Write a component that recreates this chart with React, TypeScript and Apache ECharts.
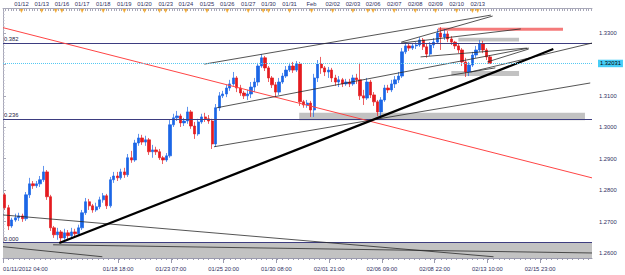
import React, { useEffect, useRef } from 'react';
import * as echarts from 'echarts';

// 4-hour candles (trading hours counted from 01/11/2012 04:00)
const barHours = 4;
const opens = [
  1.2785, 1.2744, 1.2686, 1.2705, 1.2712, 1.2718, 1.2709, 1.2785, 1.2820, 1.2814,
  1.2820, 1.2833, 1.2858, 1.2779, 1.2680, 1.2658, 1.2667, 1.2648, 1.2664, 1.2655,
  1.2667, 1.2661, 1.2680, 1.2728, 1.2763, 1.2750, 1.2737, 1.2747, 1.2769, 1.2782,
  1.2750, 1.2833, 1.2845, 1.2839, 1.2858, 1.2849, 1.2903, 1.2896, 1.2950, 1.2966,
  1.2953, 1.2960, 1.2922, 1.2928, 1.2922, 1.2903, 1.2896, 1.2909, 1.3008, 1.3030,
  1.3036, 1.3014, 1.3020, 1.3049, 1.3004, 1.2979, 1.3017, 1.3033, 1.3027, 1.3020,
  1.2947, 1.3062, 1.3100, 1.3106, 1.3125, 1.3138, 1.3157, 1.3125, 1.3109, 1.3100,
  1.3106, 1.3128, 1.3144, 1.3195, 1.3221, 1.3189, 1.3157, 1.3135, 1.3112, 1.3144,
  1.3163, 1.3182, 1.3195, 1.3182, 1.3201, 1.3081, 1.3071, 1.3077, 1.3055, 1.3157,
  1.3201, 1.3189, 1.3176, 1.3182, 1.3157, 1.3144, 1.3151, 1.3138, 1.3144, 1.3138,
  1.3157, 1.3151, 1.3100, 1.3093, 1.3144, 1.3103, 1.3081, 1.3049, 1.3087, 1.3125,
  1.3119, 1.3138, 1.3151, 1.3163, 1.3240, 1.3259, 1.3252, 1.3259, 1.3262, 1.3278,
  1.3256, 1.3233, 1.3262, 1.3271, 1.3300, 1.3287, 1.3297, 1.3281, 1.3271, 1.3259,
  1.3246, 1.3208, 1.3176, 1.3198, 1.3230, 1.3246, 1.3265, 1.3246, 1.3224,
];
const closes = [
  1.2744, 1.2686, 1.2705, 1.2712, 1.2718, 1.2709, 1.2785, 1.2820, 1.2814, 1.2820,
  1.2833, 1.2858, 1.2779, 1.2680, 1.2658, 1.2667, 1.2648, 1.2664, 1.2655, 1.2667,
  1.2661, 1.2680, 1.2728, 1.2763, 1.2750, 1.2737, 1.2747, 1.2769, 1.2782, 1.2750,
  1.2833, 1.2845, 1.2839, 1.2858, 1.2849, 1.2903, 1.2896, 1.2950, 1.2966, 1.2953,
  1.2960, 1.2922, 1.2928, 1.2922, 1.2903, 1.2896, 1.2909, 1.3008, 1.3030, 1.3036,
  1.3014, 1.3020, 1.3049, 1.3004, 1.2979, 1.3017, 1.3033, 1.3027, 1.3020, 1.2947,
  1.3062, 1.3100, 1.3106, 1.3125, 1.3138, 1.3157, 1.3125, 1.3109, 1.3100, 1.3106,
  1.3128, 1.3144, 1.3195, 1.3221, 1.3189, 1.3157, 1.3135, 1.3112, 1.3144, 1.3163,
  1.3182, 1.3195, 1.3182, 1.3201, 1.3081, 1.3071, 1.3077, 1.3055, 1.3157, 1.3201,
  1.3189, 1.3176, 1.3182, 1.3157, 1.3144, 1.3151, 1.3138, 1.3144, 1.3138, 1.3157,
  1.3151, 1.3100, 1.3093, 1.3144, 1.3103, 1.3081, 1.3049, 1.3087, 1.3125, 1.3119,
  1.3138, 1.3151, 1.3163, 1.3240, 1.3259, 1.3252, 1.3259, 1.3262, 1.3278, 1.3256,
  1.3233, 1.3262, 1.3271, 1.3300, 1.3287, 1.3297, 1.3281, 1.3271, 1.3259, 1.3246,
  1.3208, 1.3176, 1.3198, 1.3230, 1.3246, 1.3265, 1.3246, 1.3224, 1.32031,
];
const lows = [
  1.2737, 1.2673, 1.2680, 1.2699, 1.2702, 1.2699, 1.2702, 1.2775, 1.2804, 1.2807,
  1.2810, 1.2826, 1.2769, 1.2670, 1.2648, 1.2642, 1.2632, 1.2642, 1.2642, 1.2648,
  1.2648, 1.2655, 1.2673, 1.2721, 1.2737, 1.2728, 1.2731, 1.2740, 1.2760, 1.2740,
  1.2744, 1.2823, 1.2829, 1.2833, 1.2839, 1.2842, 1.2887, 1.2890, 1.2941, 1.2944,
  1.2941, 1.2912, 1.2903, 1.2912, 1.2896, 1.2883, 1.2890, 1.2903, 1.3001, 1.3020,
  1.3001, 1.3004, 1.3011, 1.2995, 1.2963, 1.2973, 1.3011, 1.3017, 1.3011, 1.2931,
  1.2938, 1.3052, 1.3093, 1.3096, 1.3116, 1.3132, 1.3112, 1.3100, 1.3090, 1.3087,
  1.3093, 1.3112, 1.3132, 1.3189, 1.3179, 1.3144, 1.3125, 1.3096, 1.3103, 1.3138,
  1.3157, 1.3176, 1.3173, 1.3176, 1.3068, 1.3062, 1.3062, 1.3033, 1.3033, 1.3144,
  1.3170, 1.3163, 1.3157, 1.3144, 1.3132, 1.3128, 1.3128, 1.3132, 1.3128, 1.3132,
  1.3138, 1.3087, 1.3071, 1.3087, 1.3093, 1.3068, 1.3036, 1.3033, 1.3081, 1.3109,
  1.3112, 1.3125, 1.3141, 1.3157, 1.3233, 1.3243, 1.3246, 1.3249, 1.3256, 1.3246,
  1.3221, 1.3227, 1.3252, 1.3265, 1.3246, 1.3278, 1.3271, 1.3262, 1.3249, 1.3236,
  1.3195, 1.3160, 1.3163, 1.3192, 1.3221, 1.3240, 1.3236, 1.3214, 1.3201,
];
const highs = [
  1.2791, 1.2753, 1.2712, 1.2725, 1.2728, 1.2725, 1.2794, 1.2839, 1.2829, 1.2829,
  1.2845, 1.2877, 1.2864, 1.2785, 1.2686, 1.2680, 1.2673, 1.2677, 1.2673, 1.2680,
  1.2677, 1.2690, 1.2737, 1.2775, 1.2772, 1.2756, 1.2760, 1.2779, 1.2791, 1.2788,
  1.2842, 1.2858, 1.2858, 1.2868, 1.2871, 1.2915, 1.2925, 1.2960, 1.2979, 1.2976,
  1.2973, 1.2966, 1.2944, 1.2938, 1.2931, 1.2909, 1.2918, 1.3023, 1.3043, 1.3052,
  1.3043, 1.3030, 1.3065, 1.3055, 1.3017, 1.3027, 1.3043, 1.3046, 1.3039, 1.3027,
  1.3074, 1.3112, 1.3116, 1.3135, 1.3151, 1.3176, 1.3163, 1.3135, 1.3116, 1.3119,
  1.3144, 1.3157, 1.3205, 1.3233, 1.3227, 1.3195, 1.3163, 1.3144, 1.3157, 1.3173,
  1.3195, 1.3205, 1.3208, 1.3211, 1.3208, 1.3087, 1.3087, 1.3084, 1.3170, 1.3214,
  1.3224, 1.3195, 1.3192, 1.3189, 1.3167, 1.3163, 1.3157, 1.3154, 1.3154, 1.3167,
  1.3170, 1.3205, 1.3119, 1.3157, 1.3151, 1.3112, 1.3087, 1.3096, 1.3135, 1.3135,
  1.3151, 1.3163, 1.3176, 1.3252, 1.3268, 1.3268, 1.3268, 1.3271, 1.3287, 1.3284,
  1.3265, 1.3271, 1.3284, 1.3313, 1.3319, 1.3313, 1.3306, 1.3290, 1.3275, 1.3268,
  1.3252, 1.3221, 1.3208, 1.3240, 1.3259, 1.3278, 1.3275, 1.3252, 1.3230,
];
const lastPrice = 1.32031;

// Axis labels (positions in trading hours since 01/11/2012 04:00)
const bottomLabels = ['01/11/2012 04:00', '01/18 18:00', '01/23 07:00', '01/25 20:00', '01/30 08:00', '02/01 21:00', '02/06 09:00', '02/08 22:00', '02/13 10:00', '02/15 23:00'];
const bottomLabelHours = [0, 131, 191, 251, 311, 371, 431, 491, 551, 611];
const dayLabels = ['01/12', '01/13', '01/16', '01/17', '01/18', '01/19', '01/20', '01/23', '01/24', '01/25', '01/26', '01/27', '01/30', '01/31', 'Feb', '02/02', '02/03', '02/06', '02/07', '02/08', '02/09', '02/10', '02/13'];
const dayLabelHours = [21, 44, 67, 90, 114, 138, 161, 185, 208, 232, 255, 279, 302, 326, 351, 375, 398, 421, 445, 469, 492, 516, 540];
const sundayHours = [60, 178, 296, 415, 534];
const hourSpan = 670;

// Fibonacci levels
const fibNames = ['0.382', '0.236', '0.000'];
const fibPrices = [1.3267, 1.3025, 1.2633];

// Drawn objects: [startHour, startPrice, endHour, endPrice]
const redLine = [0, 1.3317, 670, 1.2839];
const boldTrend = [64, 1.2632, 626, 1.3249];
const thinLines = [
  [0, 1.2721, 558, 1.2588],
  [0, 1.2620, 113, 1.2588],
  [57, 1.2626, 670, 1.2600],
  [240, 1.2938, 668, 1.3141],
  [243, 1.3062, 598, 1.3252],
  [229, 1.3201, 555, 1.3357],
  [453, 1.3271, 557, 1.3354],
  [453, 1.3268, 589, 1.3313],
  [475, 1.3224, 596, 1.3252],
  [484, 1.3154, 560, 1.3189],
  [551, 1.3208, 598, 1.3249],
  [532, 1.3176, 670, 1.3268],
];
// Zones: [startHour, topPrice, endHour, bottomPrice]
const grayZones = [
  [0, 1.2633, 670, 1.2584],
  [337, 1.3046, 662, 1.3022],
  [518, 1.3285, 587, 1.3273],
  [510, 1.3179, 587, 1.3163],
];
const redZones = [[495, 1.3317, 637, 1.3307]];

const FONT = 'Liberation Sans, Arial, sans-serif';
const TXT = '#2f2f5f';

export default function App() {
  const ref = useRef<HTMLDivElement>(null);
  useEffect(() => {
    document.body.style.margin = '0';
    const chart = echarts.init(ref.current!, null, { renderer: 'svg' });
    const hourCats = Array.from({ length: hourSpan + 1 }, (_, i) => String(i));
    const dayMap = new Map<number, string>(dayLabelHours.map((h, i) => [h, dayLabels[i]]));
    const botMap = new Map<number, string>(bottomLabelHours.map((h, i) => [h, bottomLabels[i]]));
    const candleData = opens.map((o, i) => [i * barHours + barHours / 2, o, closes[i], lows[i], highs[i]]);
    const markerData = [...dayLabelHours, ...sundayHours].map((h) => [h, 1.3370]);

    const seg = (l: number[], style: any) => [
      { coord: [l[0], l[1]], lineStyle: style },
      { coord: [l[2], l[3]] },
    ];

    const option: any = {
      animation: false,
      backgroundColor: '#ffffff',
      textStyle: { fontFamily: FONT },
      grid: { left: 0, right: 33, top: 8.5, bottom: 17, containLabel: false },
      xAxis: [
        { type: 'value', min: 0, max: hourSpan, show: false },
        {
          type: 'category', position: 'bottom', data: hourCats, boundaryGap: false,
          axisLine: { show: true, onZero: false, lineStyle: { color: '#9a9aae', width: 1 } },
          axisTick: { show: true, interval: (i: number) => botMap.has(i), length: 5, lineStyle: { color: '#9a9aae' } },
          axisLabel: {
            show: true, interval: (i: number) => botMap.has(i), formatter: (_v: string, i: number) => botMap.get(i) || '',
            fontSize: 5.8, color: TXT, margin: 8, fontFamily: FONT, alignMinLabel: 'left', hideOverlap: false,
          },
          splitLine: { show: false },
        },
        {
          type: 'category', position: 'bottom', data: hourCats, boundaryGap: false,
          axisLine: { show: false, onZero: false },
          axisTick: { show: true, interval: (i: number) => i % 6 === 0, length: 2, lineStyle: { color: '#9a9aae' } },
          axisLabel: { show: false }, splitLine: { show: false },
        },
        {
          type: 'category', position: 'top', data: hourCats, boundaryGap: false,
          axisLine: { show: true, onZero: false, lineStyle: { color: '#a8a8b8', width: 1 } },
          axisTick: { show: true, inside: true, interval: (i: number) => i % 3 === 0, length: 2.5, lineStyle: { color: '#a8a8b8' } },
          axisLabel: {
            show: true, interval: (i: number) => dayMap.has(i), formatter: (_v: string, i: number) => dayMap.get(i) || '',
            fontSize: 5.8, color: TXT, margin: 1.5, fontFamily: FONT, hideOverlap: false,
          },
          splitLine: { show: false },
        },
      ],
      yAxis: {
        type: 'value', position: 'right', min: 1.2584, max: 1.3378, splitNumber: 8, scale: true,
        axisLine: { show: true, lineStyle: { color: '#a8a8b8' } },
        axisTick: { show: true, length: 3, lineStyle: { color: '#a8a8b8' } },
        minorTick: { show: true, splitNumber: 10, length: 1.5, lineStyle: { color: '#b8b8c8' } },
        axisLabel: {
          fontSize: 5.8, color: TXT, margin: 7, fontFamily: FONT, showMinLabel: false, showMaxLabel: false,
          formatter: (v: number) => (Math.abs(v - 1.32) < 1e-7 ? '' : v.toFixed(4)),
        },
        splitLine: { show: false },
      },
      series: [
        {
          type: 'line', data: [], xAxisIndex: 0, yAxisIndex: 0, silent: true, z: 1,
          markArea: {
            silent: true,
            data: [
              ...grayZones.map((z) => [
                { coord: [z[0], z[1]], itemStyle: { color: '#c2c2c2', opacity: 1 } },
                { coord: [z[2], z[3]] },
              ]),
              ...redZones.map((z) => [
                { coord: [z[0], z[1]], itemStyle: { color: '#f47a7a', opacity: 1 } },
                { coord: [z[2], z[3]] },
              ]),
            ],
          },
          markLine: {
            silent: true, symbol: ['none', 'none'], precision: 6,
            data: fibPrices.map((p, i) => ({
              yAxis: p,
              lineStyle: { color: '#3d3d80', width: 1, type: 'solid' },
              label: { show: true, formatter: fibNames[i], position: 'insideStartTop', distance: [1, 1], fontSize: 5.8, color: '#222244', fontFamily: FONT },
            })),
          },
        },
        {
          type: 'candlestick', xAxisIndex: 0, yAxisIndex: 0, data: candleData, barWidth: 2.8, z: 3,
          itemStyle: { color: '#1b66e6', color0: '#e41b1f', borderColor: '#1b66e6', borderColor0: '#e41b1f', borderWidth: 0.7 },
        },
        {
          type: 'line', data: [], xAxisIndex: 0, yAxisIndex: 0, silent: true, z: 4,
          markLine: {
            silent: true, symbol: ['none', 'none'], label: { show: false }, precision: 6,
            data: [
              seg(redLine, { color: '#ff4545', width: 1, type: 'solid' }),
              ...thinLines.map((l) => seg(l, { color: '#2a2a2a', width: 0.8, type: 'solid' })),
              seg(boldTrend, { color: '#000000', width: 2.2, type: 'solid' }),
              [
                { xAxis: 0, yAxis: lastPrice, lineStyle: { color: '#55c8f2', width: 1, type: 'dotted' },
                  label: { show: true, position: 'end', formatter: '1.32031', backgroundColor: '#47cdf7', color: '#000', fontSize: 5.8, padding: [1, 2, 0.5, 2], distance: 6, fontFamily: FONT } },
                { xAxis: hourSpan, yAxis: lastPrice },
              ],
            ],
          },
        },
        {
          type: 'scatter', xAxisIndex: 0, yAxisIndex: 0, data: markerData, symbol: 'triangle', symbolRotate: 180,
          symbolSize: [4, 4], itemStyle: { color: '#f5a21a' }, z: 5, silent: true,
        },
      ],
    };
    chart.setOption(option);
    return () => chart.dispose();
  }, []);
  return <div ref={ref} style={{ width: 625, height: 275 }} />;
}
